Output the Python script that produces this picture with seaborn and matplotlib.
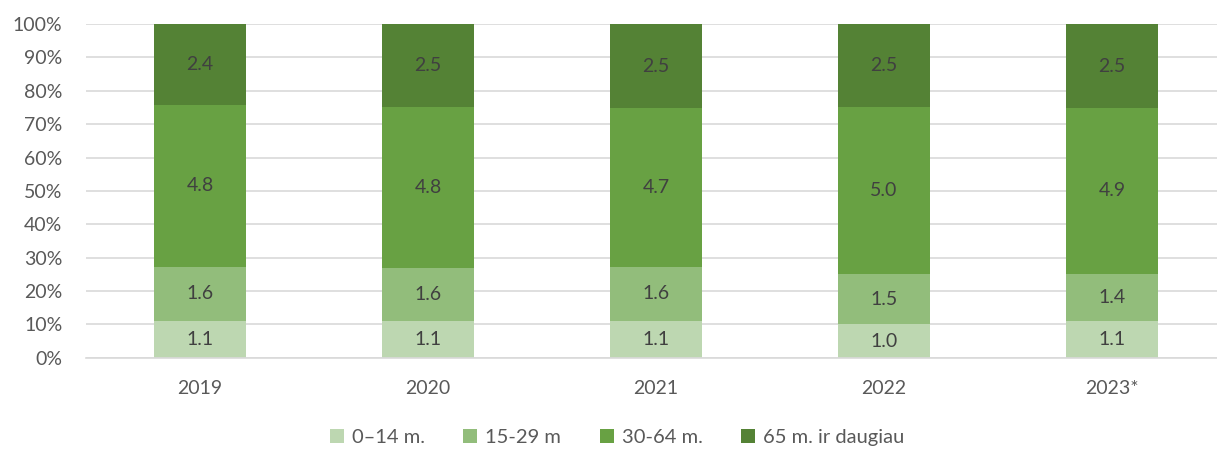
import numpy as np
import pandas as pd
import matplotlib
matplotlib.use("Agg")
import matplotlib.pyplot as plt
import seaborn as sns
from matplotlib.patches import Patch

years = ["2019", "2020", "2021", "2022", "2023*"]
groups = ["0–14 m.", "15-29 m", "30-64 m.", "65 m. ir daugiau"]
v_0_14 = [1.1, 1.1, 1.1, 1.0, 1.1]
v_15_29 = [1.6, 1.6, 1.6, 1.5, 1.4]
v_30_64 = [4.8, 4.8, 4.7, 5.0, 4.9]
v_65 = [2.4, 2.5, 2.5, 2.5, 2.5]
colors = ["#BDD7B1", "#92BD7B", "#68A143", "#548235"]

sns.set_style("white")
plt.rcParams["font.family"] = ["Lato", "DejaVu Sans"]

vals = np.array([v_0_14, v_15_29, v_30_64, v_65])
share = vals / vals.sum(axis=0) * 100
cum = share.cumsum(axis=0)

fig = plt.figure(figsize=(12.17, 4.53), dpi=100)
# axes runs past the right edge like the original plot area
ax = fig.add_axes([86 / 1217, 0.21, 1140 / 1217, 0.737])

# overlay cumulative bars, top segment first
for i in range(len(groups) - 1, -1, -1):
    df = pd.DataFrame({"year": years, "val": cum[i]})
    sns.barplot(data=df, x="year", y="val", color=colors[i], width=0.4,
                saturation=1, linewidth=0, edgecolor="none", ax=ax, zorder=2)

for j in range(len(years)):
    bottom = 0
    for i in range(len(groups)):
        ax.text(j, bottom + share[i, j] / 2, f"{vals[i, j]:.1f}",
                ha="center", va="center", fontsize=14, color="#404040", zorder=3)
        bottom += share[i, j]

ax.set_ylim(0, 100)
ax.set_xlim(-0.5, 4.5)
ax.set_yticks(range(0, 101, 10))
ax.set_yticklabels([f"{t}%" for t in range(0, 101, 10)])
ax.yaxis.grid(True, color="#D9D9D9", linewidth=1.2, zorder=0)
ax.set_axisbelow(True)
for s in ["top", "right", "left"]:
    ax.spines[s].set_visible(False)
ax.spines["bottom"].set_color("#D9D9D9")
ax.spines["bottom"].set_linewidth(1.2)
ax.tick_params(axis="both", length=0, labelsize=14, colors="#595959")
ax.tick_params(axis="y", pad=17)
ax.tick_params(axis="x", pad=16)
ax.set_xlabel("")
ax.set_ylabel("")

handles = [Patch(facecolor=c, edgecolor="none") for c in colors]
fig.legend(handles, groups, loc="lower center", ncol=4, frameon=False,
           bbox_to_anchor=(0.507, -0.025), fontsize=14.5, handlelength=0.7,
           handleheight=0.7, handletextpad=0.4, columnspacing=1.9,
           labelcolor="#595959")

fig.savefig("out.png", dpi=100)
